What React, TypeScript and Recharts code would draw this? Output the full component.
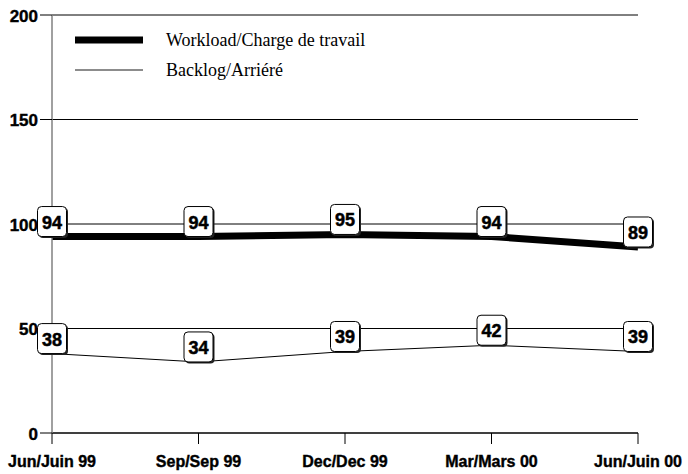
import React from "react";
import {
  LineChart,
  Line,
  XAxis,
  YAxis,
  CartesianGrid,
  LabelList,
} from "recharts";

const months = ["Jun/Juin 99", "Sep/Sep 99", "Dec/Dec 99", "Mar/Mars 00", "Jun/Juin 00"];
const workload = [94, 94, 95, 94, 89];
const backlog = [38, 34, 39, 42, 39];
const yTicks = [0, 50, 100, 150, 200];

const data = months.map((m, i) => ({
  month: m,
  workload: workload[i],
  backlog: backlog[i],
}));

const sans = "'Liberation Sans', Arial, sans-serif";
const serif = "'Liberation Serif', 'Times New Roman', serif";

// boxed value label sitting on top of the point
function BoxLabel(props: any) {
  const { x, y, value } = props;
  const w = 29;
  const h = 30;
  const left = x - w / 2;
  const top = y - h;
  return (
    <g>
      <rect x={left + 1.5} y={top + 1.5} width={w} height={h} rx={4} fill="#222" />
      <rect x={left} y={top} width={w} height={h} rx={4} fill="#fff" stroke="#000" strokeWidth={1} />
      <text
        x={x}
        y={top + h / 2 + 1}
        textAnchor="middle"
        dominantBaseline="central"
        fontFamily={sans}
        fontWeight="bold"
        fontSize={18}
        fill="#000"
        stroke="#000"
        strokeWidth={0.5}
      >
        {value}
      </text>
    </g>
  );
}

function XTick(props: any) {
  const { x, payload } = props;
  return (
    <text
      x={x}
      y={461}
      textAnchor="middle"
      dominantBaseline="central"
      fontFamily={sans}
      fontWeight="bold"
      fontSize={16}
      fill="#000"
      stroke="#000"
      strokeWidth={0.4}
    >
      {payload.value}
    </text>
  );
}

function YTick(props: any) {
  const { y, payload } = props;
  return (
    <text
      x={38}
      y={y + 1}
      textAnchor="end"
      dominantBaseline="central"
      fontFamily={sans}
      fontWeight="bold"
      fontSize={17}
      fill="#000"
      stroke="#000"
      strokeWidth={0.4}
    >
      {payload.value}
    </text>
  );
}

const legendRows = [
  { label: "Workload/Charge de travail", width: 7, color: "#000" },
  { label: "Backlog/Arriéré", width: 1.5, color: "#666" },
];

function LegendBox() {
  return (
    <div style={{ position: "absolute", left: 75, top: 25 }}>
      {legendRows.map((r) => (
        <div key={r.label} style={{ display: "flex", alignItems: "center", height: 30 }}>
          <svg width={91} height={30}>
            <line x1={0} x2={68} y1={15} y2={15} stroke={r.color} strokeWidth={r.width} />
          </svg>
          <span style={{ fontFamily: serif, fontSize: 18, color: "#000" }}>{r.label}</span>
        </div>
      ))}
    </div>
  );
}

export default function App() {
  return (
    <div style={{ position: "absolute", left: 0, top: 0, width: 688, height: 474, background: "#fff" }}>
      <LineChart
        width={688}
        height={474}
        data={data}
        margin={{ top: 15, right: 50, bottom: 0, left: 0 }}
      >
        <CartesianGrid horizontal vertical={false} stroke="#000" strokeWidth={1} />
        <XAxis
          dataKey="month"
          interval={0}
          height={41}
          padding={{ left: 0, right: 0 }}
          axisLine={{ stroke: "#000" }}
          tickLine={{ stroke: "#000" }}
          tickSize={11}
          tick={<XTick />}
        />
        <YAxis
          domain={[0, 200]}
          ticks={yTicks}
          width={52}
          axisLine={{ stroke: "#808080", strokeWidth: 1.5 }}
          tickLine={{ stroke: "#000" }}
          tickSize={12}
          tick={<YTick />}
        />
        <Line
          dataKey="workload"
          stroke="#000"
          strokeWidth={7}
          dot={false}
          isAnimationActive={false}
        >
          <LabelList dataKey="workload" content={<BoxLabel />} />
        </Line>
        <Line
          dataKey="backlog"
          stroke="#000"
          strokeWidth={1}
          dot={false}
          isAnimationActive={false}
        >
          <LabelList dataKey="backlog" content={<BoxLabel />} />
        </Line>
      </LineChart>
      <LegendBox />
    </div>
  );
}
